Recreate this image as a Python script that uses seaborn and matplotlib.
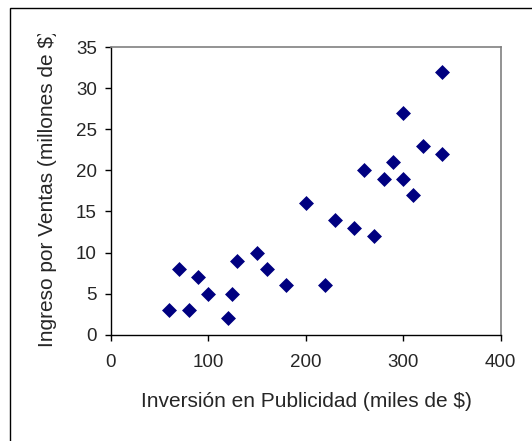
import numpy as np
import pandas as pd
import matplotlib
matplotlib.use("Agg")
import matplotlib.pyplot as plt
import seaborn as sns
from matplotlib.patches import Rectangle
from matplotlib.transforms import Bbox, TransformedBbox

## DATOS
inversion = [60, 70, 80, 90, 100, 120, 125, 130, 150, 160, 180, 200, 220,
             230, 250, 260, 270, 280, 290, 300, 300, 310, 320, 340, 340]
ingreso = [3, 8, 3, 7, 5, 2, 5, 9, 10, 8, 6, 16, 6,
           14, 13, 20, 12, 19, 21, 27, 19, 17, 23, 32, 22]
x_ticks = [0, 100, 200, 300, 400]
y_ticks = [0, 5, 10, 15, 20, 25, 30, 35]
x_label = "Inversión en Publicidad (miles de $)"
y_label = "Ingreso por Ventas (millones de $)"

df = pd.DataFrame({"inversion": inversion, "ingreso": ingreso})

sns.set_style("white")
plt.rcParams["font.family"] = ["Liberation Sans", "DejaVu Sans"]

W, H = 532, 441
fig = plt.figure(figsize=(W / 100, H / 100), dpi=100)

# posiciones en pixeles
x0, x1, y_top, y_bot = 110.5, 500.7, 47, 334.7
ax = fig.add_axes([x0 / W, 1 - y_bot / H, (x1 - x0) / W, (y_bot - y_top) / H])

sns.scatterplot(data=df, x="inversion", y="ingreso", ax=ax, marker="D",
                s=58, color="#000080", linewidth=0, zorder=3)

ax.set_xlim(0, 400)
ax.set_ylim(0, 35)
ax.set_xticks(x_ticks)
ax.set_yticks(y_ticks)
ax.set_xlabel("")
ax.set_ylabel("")
ax.tick_params(axis="x", direction="out", length=4.3, width=1, color="black",
               pad=9.5, labelsize=13.5, bottom=True)
ax.tick_params(axis="y", direction="out", length=4.3, width=1, color="black",
               pad=5.5, labelsize=13.5, left=True)

for side in ["top", "right"]:
    ax.spines[side].set_color("#808080")
    ax.spines[side].set_linewidth(1.2)
for side in ["left", "bottom"]:
    ax.spines[side].set_color("black")
    ax.spines[side].set_linewidth(1.0)

# etiquetas de ejes
fig.text(306 / W, 1 - 407 / H, x_label, ha="center", va="baseline",
         fontsize=15)
yl = fig.text(53 / W, 1 - 347 / H, y_label, rotation=90,
              rotation_mode="anchor", ha="left", va="baseline", fontsize=15)
yl.set_clip_box(TransformedBbox(Bbox.from_extents(0, 0, 1, 1 - 34 / H),
                                fig.transFigure))
yl.set_clip_on(True)

# borde del grafico (recortado a la derecha y abajo)
fig.patches.append(Rectangle((10 / W, -0.05), 1.2, 1 - 8 / H + 0.05,
                             transform=fig.transFigure, fill=False,
                             edgecolor="black", linewidth=1.0))

fig.savefig("out.png", dpi=100)
